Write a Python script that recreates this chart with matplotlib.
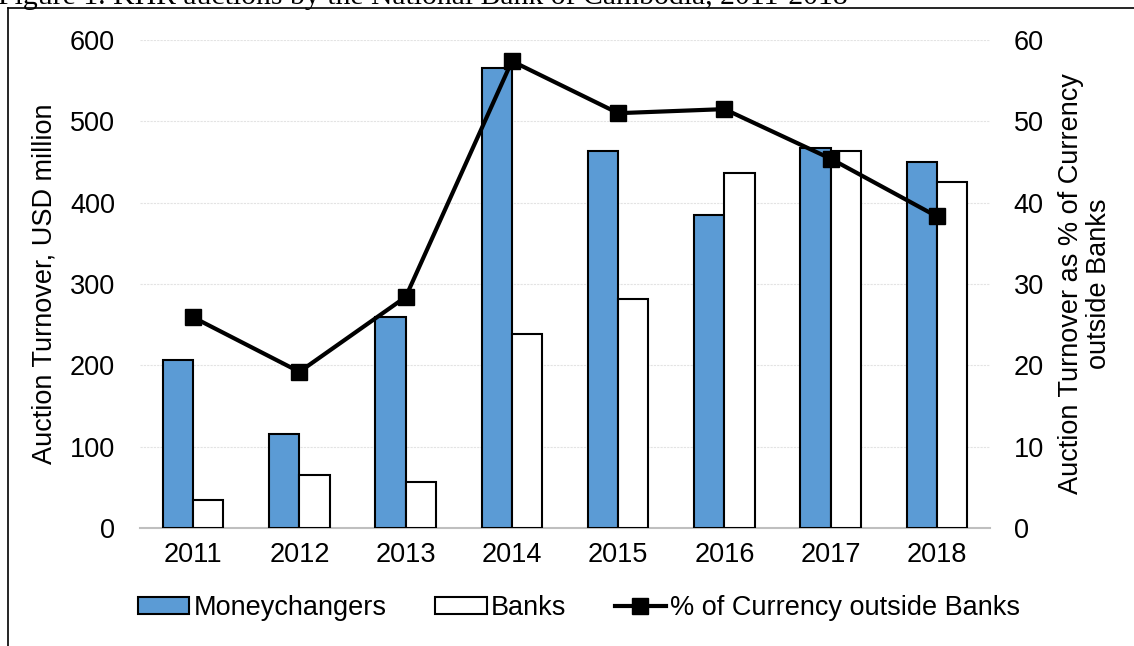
import numpy as np
import matplotlib.pyplot as plt
from matplotlib.lines import Line2D

years = ['2011', '2012', '2013', '2014', '2015', '2016', '2017', '2018']
moneychangers = [206, 115, 259, 565, 464, 385, 467, 450]
banks = [35, 65, 56, 238, 281, 436, 464, 425]
pct_currency = [25.9, 19.2, 28.4, 57.4, 51.0, 51.5, 45.4, 38.3]

plt.rcParams['font.family'] = ['Liberation Sans', 'DejaVu Sans']
fs = 19.5

fig = plt.figure(figsize=(11.34, 6.46), dpi=100)
ax = fig.add_axes([0.1235, 0.1827, 0.7496, 0.7554])
ax2 = ax.twinx()

x = np.arange(len(years))
w = 0.285
b1 = ax.bar(x - w/2, moneychangers, w, color='#5B9BD5', edgecolor='black', linewidth=1.5,
            label='Moneychangers', zorder=3)
b2 = ax.bar(x + w/2, banks, w, color='white', edgecolor='black', linewidth=1.5,
            label='Banks', zorder=3)
l1, = ax2.plot(x, pct_currency, color='black', linewidth=3, marker='s', markersize=11,
               label='% of Currency outside Banks')

ax.set_xlim(-0.5, len(years) - 0.5)
ax.set_ylim(0, 600)
ax2.set_ylim(0, 60)
ax.set_yticks(range(0, 601, 100))
ax2.set_yticks(range(0, 61, 10))
ax.set_xticks(x)
ax.set_xticklabels(years)

for gy in range(100, 601, 100):
    ax.axhline(gy, color='#e3e3e3', linewidth=0.8, linestyle=(0, (2, 1)), zorder=1)

for a in (ax, ax2):
    for s in ['top', 'right', 'left', 'bottom']:
        a.spines[s].set_visible(False)
    a.tick_params(length=0, labelsize=fs)
ax.spines['bottom'].set_visible(True)
ax.spines['bottom'].set_color('#bfbfbf')
ax.spines['bottom'].set_linewidth(1.5)
ax.tick_params(axis='y', pad=18)
ax.tick_params(axis='x', pad=10)
ax2.tick_params(axis='y', pad=17)

fig.text(45/1134, 0.5605, 'Auction Turnover, USD million', rotation=90, fontsize=fs,
         ha='center', va='center')
fig.text(1085/1134, 0.5605, 'Auction Turnover as % of Currency\noutside Banks', rotation=90,
         fontsize=fs, ha='center', va='center', multialignment='center', linespacing=1.05)

fig.legend([b1, b2, l1], ['Moneychangers', 'Banks', '% of Currency outside Banks'],
           loc='center', bbox_to_anchor=(579/1134, 0.059), ncol=3, frameon=False,
           fontsize=fs, handlelength=1.9, handleheight=0.6, handletextpad=0.15,
           columnspacing=1.8)

# cropped caption and page frame
fig.text(-0.002, 1 - 4/646, 'Figure 1. KHR auctions by the National Bank of Cambodia, 2011-2018',
         family=['Liberation Serif'], fontsize=21.4, ha='left', va='baseline')
fig.add_artist(Line2D([7.5/1134, 7.5/1134], [0, 1 - 7.5/646], color='black', linewidth=1.2,
                      transform=fig.transFigure))
fig.add_artist(Line2D([7.5/1134, 1], [1 - 7.5/646, 1 - 7.5/646], color='black', linewidth=1.2,
                      transform=fig.transFigure))

fig.savefig('out.png', dpi=100)
